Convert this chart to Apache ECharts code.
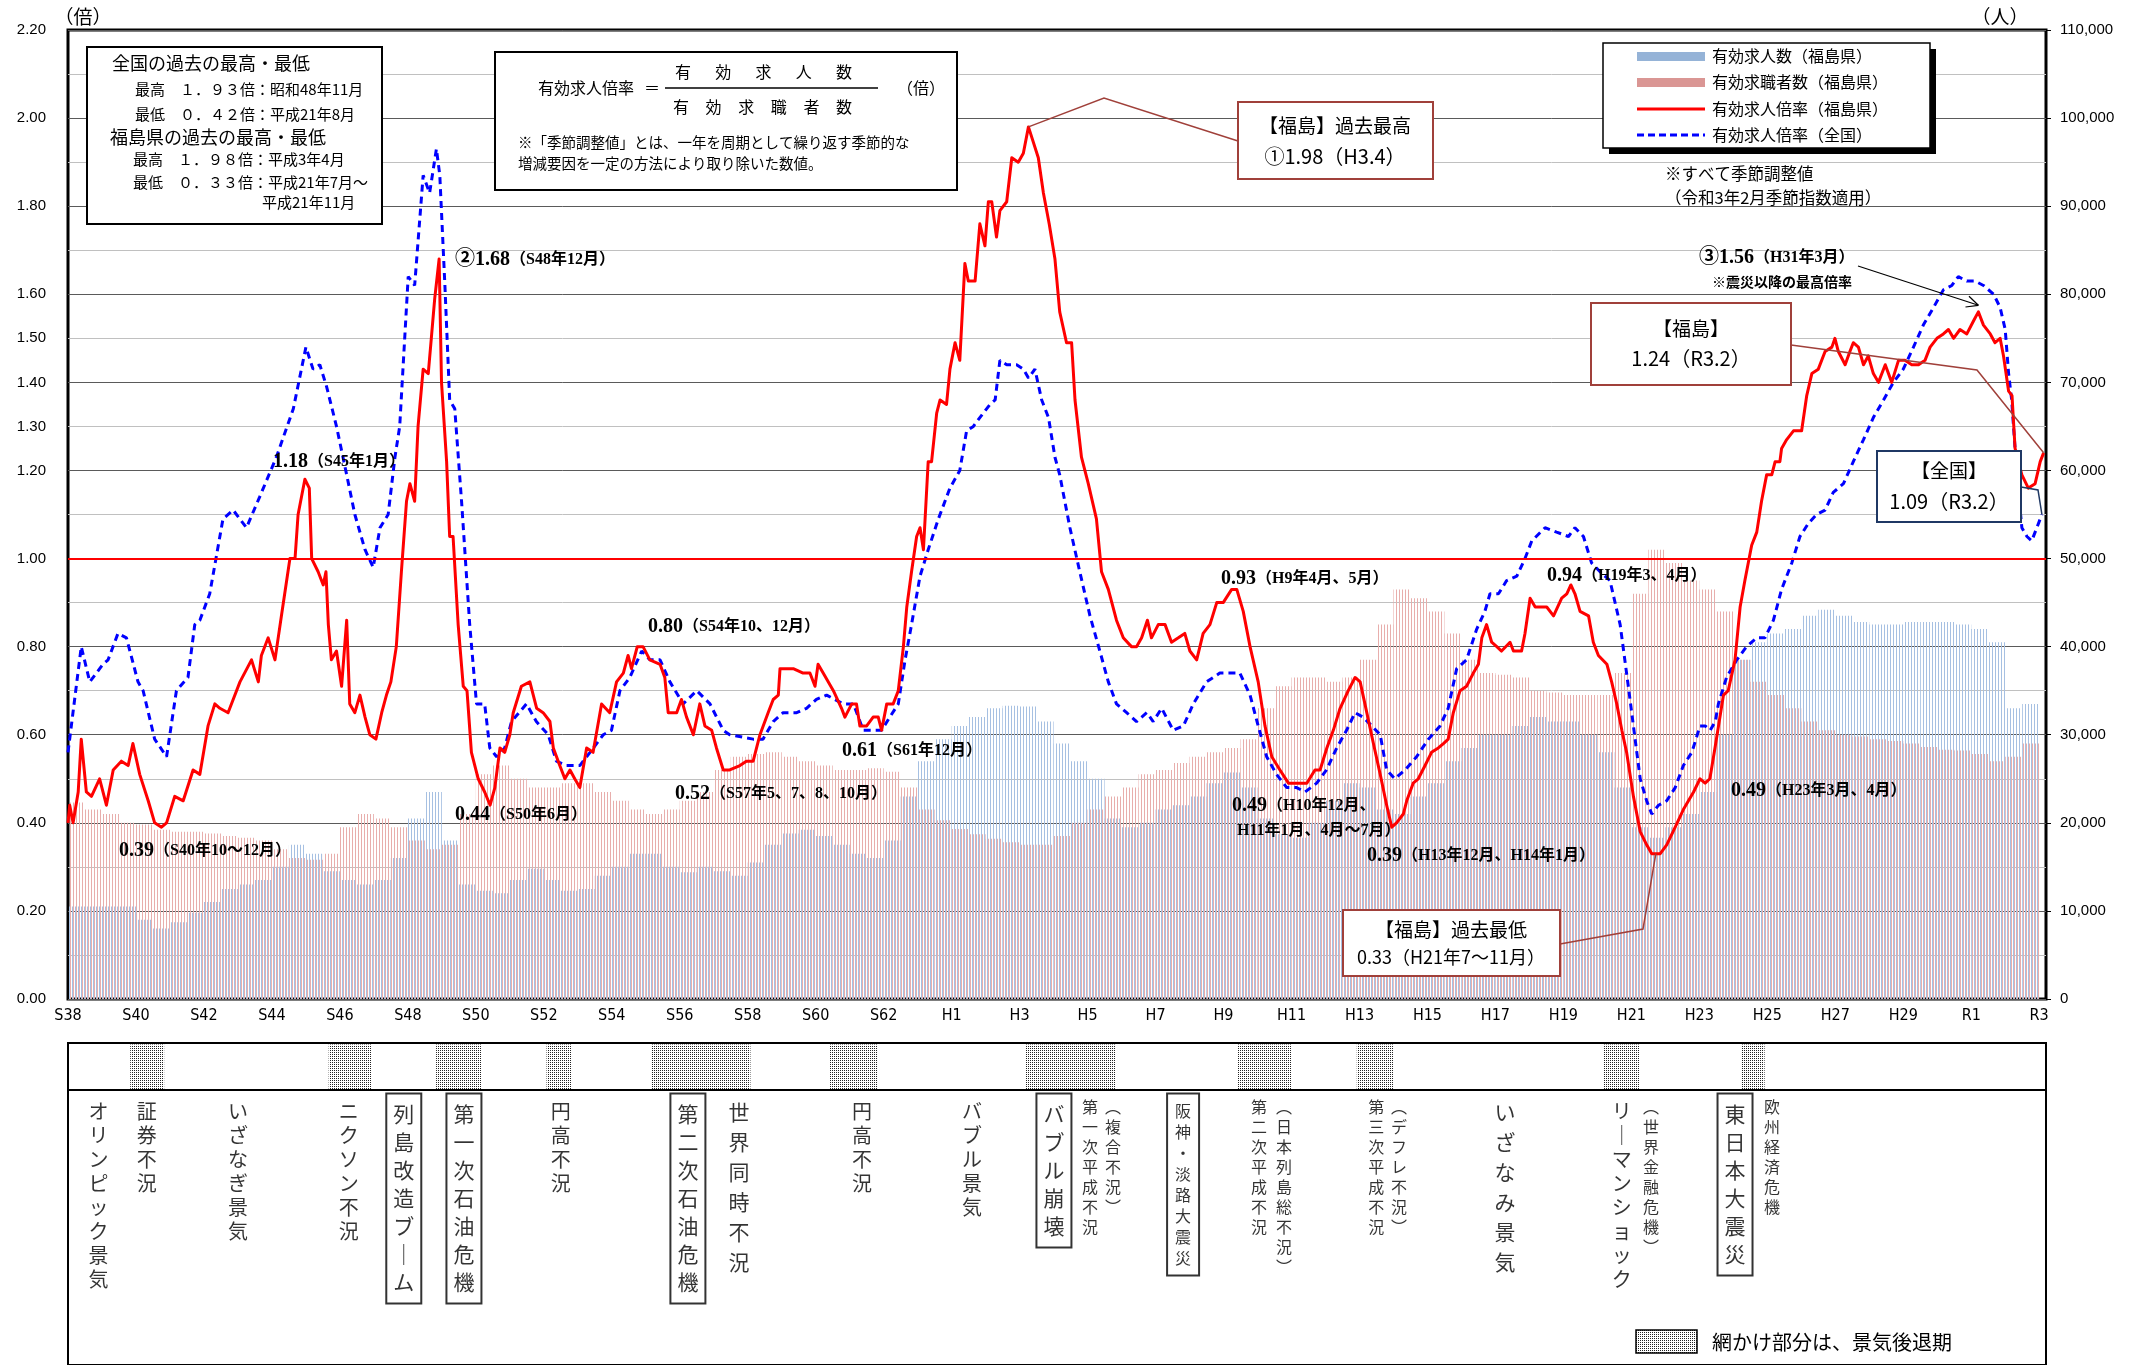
<!DOCTYPE html>
<html lang="ja">
<head>
<meta charset="utf-8">
<title>有効求人倍率の推移（福島県・全国）</title>
<script src="https://cdn.jsdelivr.net/npm/echarts/dist/echarts.min.js"></script>
<style>
  html, body { margin: 0; padding: 0; background: #fff; }
  #chart { width: 2143px; height: 1365px; }
</style>
</head>
<body>
<div id="chart"></div>
<script>
// 年は西暦の小数表記（1963.0 = 昭和38年1月）、季節調整値
const fukushimaRatio = [
  [1963.0,0.40],[1963.05,0.44],[1963.15,0.40],[1963.3,0.47],[1963.39,0.59],[1963.54,0.47],[1963.69,0.46],[1963.93,0.50],
  [1964.13,0.44],[1964.33,0.52],[1964.57,0.54],[1964.77,0.53],[1964.91,0.58],[1965.11,0.51],[1965.36,0.45],[1965.55,0.40],
  [1965.75,0.39],[1965.9,0.40],[1966.14,0.46],[1966.39,0.45],[1966.68,0.52],[1966.88,0.51],[1967.12,0.62],[1967.32,0.67],
  [1967.47,0.66],[1967.71,0.65],[1967.86,0.68],[1968.06,0.72],[1968.4,0.77],[1968.6,0.72],[1968.69,0.78],[1968.89,0.82],
  [1969.09,0.77],[1969.28,0.87],[1969.53,1.00],[1969.68,1.00],[1969.77,1.10],[1969.97,1.18],[1970.1,1.16],[1970.17,1.00],
  [1970.36,0.97],[1970.51,0.94],[1970.59,0.97],[1970.66,0.85],[1970.75,0.77],[1970.9,0.79],[1971.05,0.71],[1971.2,0.86],
  [1971.29,0.67],[1971.44,0.65],[1971.59,0.69],[1971.74,0.64],[1971.88,0.60],[1972.06,0.59],[1972.23,0.65],[1972.37,0.69],
  [1972.5,0.72],[1972.66,0.80],[1972.81,0.97],[1972.96,1.13],[1973.06,1.17],[1973.2,1.13],[1973.3,1.30],[1973.45,1.43],
  [1973.6,1.42],[1973.69,1.50],[1973.79,1.59],[1973.92,1.68],[1973.99,1.40],[1974.14,1.22],[1974.23,1.05],[1974.33,1.05],
  [1974.48,0.85],[1974.63,0.71],[1974.74,0.70],[1974.87,0.56],[1975.07,0.50],[1975.26,0.47],[1975.42,0.44],[1975.56,0.48],
  [1975.71,0.57],[1975.85,0.56],[1976.0,0.60],[1976.1,0.65],[1976.34,0.71],[1976.59,0.72],[1976.79,0.66],[1976.98,0.65],
  [1977.18,0.63],[1977.28,0.57],[1977.47,0.53],[1977.62,0.50],[1977.77,0.52],[1977.91,0.50],[1978.06,0.48],[1978.26,0.57],
  [1978.45,0.56],[1978.7,0.67],[1978.94,0.65],[1979.14,0.72],[1979.34,0.74],[1979.48,0.78],[1979.58,0.75],[1979.75,0.80],
  [1979.92,0.80],[1980.12,0.77],[1980.42,0.76],[1980.56,0.73],[1980.66,0.65],[1980.91,0.65],[1981.05,0.68],[1981.2,0.64],
  [1981.4,0.60],[1981.59,0.67],[1981.74,0.62],[1981.94,0.61],[1982.08,0.57],[1982.28,0.52],[1982.47,0.52],[1982.77,0.53],
  [1982.96,0.54],[1983.16,0.54],[1983.36,0.60],[1983.6,0.65],[1983.75,0.68],[1983.9,0.69],[1983.95,0.75],[1984.14,0.75],
  [1984.34,0.75],[1984.63,0.74],[1984.83,0.74],[1984.98,0.71],[1985.07,0.76],[1985.22,0.74],[1985.52,0.70],[1985.76,0.66],
  [1985.86,0.64],[1986.06,0.67],[1986.2,0.67],[1986.3,0.62],[1986.5,0.62],[1986.69,0.64],[1986.84,0.64],[1986.94,0.61],
  [1987.09,0.67],[1987.28,0.67],[1987.43,0.70],[1987.58,0.80],[1987.68,0.89],[1987.82,0.97],[1987.97,1.05],[1988.07,1.07],
  [1988.17,1.02],[1988.31,1.22],[1988.41,1.22],[1988.56,1.33],[1988.66,1.36],[1988.85,1.35],[1988.95,1.43],[1989.1,1.49],
  [1989.24,1.45],[1989.39,1.67],[1989.49,1.63],[1989.69,1.63],[1989.83,1.76],[1989.98,1.71],[1990.08,1.81],[1990.18,1.81],
  [1990.32,1.73],[1990.42,1.79],[1990.62,1.81],[1990.77,1.91],[1990.96,1.90],[1991.11,1.92],[1991.26,1.98],[1991.55,1.91],
  [1991.7,1.83],[1991.87,1.76],[1992.04,1.68],[1992.18,1.56],[1992.38,1.49],[1992.53,1.49],[1992.63,1.36],[1992.82,1.23],
  [1993.02,1.17],[1993.26,1.09],[1993.41,0.97],[1993.61,0.93],[1993.85,0.86],[1994.05,0.82],[1994.29,0.80],[1994.44,0.80],
  [1994.59,0.82],[1994.76,0.86],[1994.88,0.82],[1995.08,0.85],[1995.28,0.85],[1995.47,0.81],[1995.67,0.82],[1995.86,0.83],
  [1996.01,0.79],[1996.21,0.77],[1996.4,0.83],[1996.6,0.85],[1996.8,0.90],[1996.99,0.90],[1997.24,0.93],[1997.39,0.93],
  [1997.58,0.88],[1997.78,0.80],[1998.02,0.72],[1998.22,0.62],[1998.42,0.55],[1998.66,0.52],[1998.91,0.49],[1999.15,0.49],
  [1999.45,0.49],[1999.69,0.52],[1999.84,0.52],[2000.04,0.57],[2000.23,0.61],[2000.43,0.66],[2000.67,0.70],[2000.87,0.73],
  [2001.02,0.72],[2001.16,0.67],[2001.41,0.58],[2001.61,0.51],[2001.8,0.44],[2001.95,0.39],[2002.09,0.40],[2002.29,0.42],
  [2002.39,0.45],[2002.58,0.49],[2002.73,0.50],[2002.93,0.53],[2003.12,0.56],[2003.32,0.57],[2003.47,0.58],[2003.61,0.59],
  [2003.76,0.65],[2003.96,0.70],[2004.15,0.71],[2004.35,0.74],[2004.5,0.76],[2004.6,0.82],[2004.74,0.85],[2004.89,0.81],
  [2005.04,0.80],[2005.18,0.79],[2005.43,0.81],[2005.53,0.79],[2005.77,0.79],[2005.87,0.83],[2006.02,0.91],[2006.17,0.89],
  [2006.51,0.89],[2006.71,0.87],[2006.95,0.91],[2007.1,0.92],[2007.22,0.94],[2007.34,0.92],[2007.49,0.88],[2007.74,0.87],
  [2007.88,0.81],[2008.03,0.78],[2008.28,0.76],[2008.42,0.72],[2008.57,0.67],[2008.72,0.61],[2008.86,0.56],[2009.06,0.46],
  [2009.26,0.38],[2009.45,0.35],[2009.6,0.33],[2009.85,0.33],[2010.04,0.35],[2010.29,0.39],[2010.53,0.43],[2010.83,0.47],
  [2011.02,0.50],[2011.17,0.49],[2011.31,0.50],[2011.46,0.57],[2011.71,0.69],[2011.85,0.70],[2012.05,0.77],[2012.2,0.89],
  [2012.34,0.95],[2012.54,1.03],[2012.69,1.06],[2012.83,1.13],[2012.98,1.19],[2013.13,1.19],[2013.23,1.22],[2013.37,1.22],
  [2013.42,1.25],[2013.57,1.27],[2013.77,1.29],[2014.01,1.29],[2014.16,1.37],[2014.31,1.42],[2014.5,1.43],[2014.7,1.47],
  [2014.9,1.48],[2014.99,1.50],[2015.09,1.47],[2015.29,1.44],[2015.43,1.47],[2015.53,1.49],[2015.68,1.48],[2015.83,1.44],
  [2015.97,1.46],[2016.12,1.42],[2016.27,1.40],[2016.47,1.44],[2016.66,1.40],[2016.86,1.45],[2017.05,1.45],[2017.25,1.44],
  [2017.45,1.44],[2017.64,1.45],[2017.79,1.48],[2017.99,1.50],[2018.18,1.51],[2018.33,1.52],[2018.48,1.50],[2018.67,1.52],
  [2018.87,1.51],[2019.07,1.54],[2019.21,1.56],[2019.36,1.53],[2019.56,1.51],[2019.7,1.49],[2019.85,1.50],[2019.95,1.46],
  [2020.1,1.38],[2020.2,1.37],[2020.29,1.25],[2020.39,1.22],[2020.49,1.19],[2020.68,1.16],[2020.88,1.17],[2021.03,1.22],
  [2021.13,1.24]
];

const nationalRatio = [
  [1963.0,0.56],[1963.39,0.80],[1963.64,0.72],[1964.03,0.76],[1964.18,0.77],[1964.47,0.83],[1964.72,0.82],[1965.06,0.72],
  [1965.21,0.70],[1965.55,0.59],[1965.9,0.55],[1966.19,0.70],[1966.53,0.73],[1966.73,0.85],[1966.88,0.86],[1967.17,0.92],
  [1967.56,1.09],[1967.86,1.11],[1968.25,1.07],[1968.64,1.14],[1969.13,1.23],[1969.63,1.34],[1970.0,1.48],[1970.21,1.43],
  [1970.41,1.44],[1970.61,1.39],[1970.9,1.30],[1971.2,1.19],[1971.44,1.10],[1971.74,1.02],[1971.98,0.98],[1972.18,1.07],
  [1972.42,1.10],[1972.62,1.23],[1972.76,1.30],[1973.01,1.64],[1973.2,1.62],[1973.45,1.87],[1973.64,1.83],[1973.84,1.93],
  [1973.94,1.87],[1974.09,1.62],[1974.23,1.36],[1974.38,1.34],[1974.58,1.13],[1974.82,0.85],[1975.02,0.67],[1975.26,0.67],
  [1975.41,0.57],[1975.61,0.55],[1975.85,0.57],[1976.05,0.63],[1976.49,0.67],[1976.78,0.63],[1977.13,0.60],[1977.37,0.54],
  [1977.67,0.53],[1978.06,0.53],[1978.36,0.56],[1978.75,0.60],[1978.99,0.61],[1979.24,0.70],[1979.53,0.73],[1979.88,0.79],
  [1980.12,0.77],[1980.42,0.77],[1980.71,0.72],[1981.1,0.67],[1981.5,0.70],[1981.89,0.67],[1982.28,0.61],[1982.47,0.60],
  [1983.16,0.59],[1983.45,0.59],[1983.75,0.63],[1984.04,0.65],[1984.44,0.65],[1984.73,0.66],[1985.02,0.68],[1985.32,0.69],
  [1985.56,0.68],[1985.81,0.67],[1986.11,0.67],[1986.4,0.61],[1986.69,0.61],[1986.94,0.61],[1987.18,0.64],[1987.43,0.67],
  [1987.63,0.77],[1987.82,0.85],[1988.07,0.96],[1988.31,1.02],[1988.61,1.09],[1988.95,1.16],[1989.24,1.20],[1989.44,1.29],
  [1989.64,1.30],[1989.83,1.32],[1990.13,1.35],[1990.28,1.36],[1990.42,1.45],[1990.62,1.44],[1990.91,1.44],[1991.11,1.43],
  [1991.26,1.41],[1991.45,1.43],[1991.65,1.36],[1991.85,1.32],[1992.04,1.23],[1992.18,1.19],[1992.48,1.07],[1992.77,0.97],
  [1993.07,0.87],[1993.36,0.79],[1993.61,0.72],[1993.85,0.67],[1994.15,0.65],[1994.44,0.63],[1994.74,0.65],[1994.93,0.63],
  [1995.18,0.66],[1995.52,0.61],[1995.82,0.62],[1996.11,0.67],[1996.5,0.72],[1996.89,0.74],[1997.48,0.74],[1997.78,0.69],
  [1998.02,0.62],[1998.27,0.55],[1998.56,0.51],[1998.86,0.48],[1999.15,0.48],[1999.4,0.47],[1999.74,0.49],[2000.03,0.52],
  [2000.33,0.57],[2000.62,0.61],[2000.87,0.65],[2001.11,0.64],[2001.36,0.62],[2001.61,0.60],[2001.8,0.52],[2002.04,0.50],
  [2002.34,0.52],[2002.68,0.55],[2003.03,0.59],[2003.37,0.62],[2003.61,0.66],[2003.86,0.75],[2004.15,0.77],[2004.45,0.84],
  [2004.69,0.88],[2004.84,0.92],[2005.09,0.92],[2005.33,0.95],[2005.63,0.96],[2005.87,1.00],[2006.07,1.04],[2006.46,1.07],
  [2006.8,1.06],[2007.15,1.05],[2007.34,1.07],[2007.59,1.05],[2007.83,0.99],[2008.08,0.97],[2008.37,0.95],[2008.67,0.85],
  [2008.91,0.71],[2009.11,0.59],[2009.26,0.50],[2009.45,0.45],[2009.6,0.42],[2009.8,0.44],[2010.04,0.45],[2010.29,0.48],
  [2010.53,0.53],[2010.78,0.56],[2011.02,0.62],[2011.17,0.62],[2011.32,0.61],[2011.47,0.63],[2011.56,0.67],[2011.8,0.73],
  [2012.1,0.77],[2012.39,0.80],[2012.69,0.82],[2012.93,0.82],[2013.18,0.86],[2013.42,0.93],[2013.72,0.99],[2013.96,1.05],
  [2014.21,1.08],[2014.45,1.10],[2014.7,1.11],[2014.94,1.15],[2015.24,1.17],[2015.53,1.22],[2015.83,1.27],[2016.12,1.32],
  [2016.42,1.36],[2016.71,1.40],[2017.0,1.43],[2017.3,1.48],[2017.59,1.53],[2017.89,1.57],[2018.18,1.61],[2018.43,1.62],
  [2018.62,1.64],[2018.87,1.63],[2019.11,1.63],[2019.36,1.62],[2019.66,1.60],[2019.85,1.57],[2020.0,1.52],[2020.1,1.42],
  [2020.19,1.36],[2020.29,1.25],[2020.39,1.15],[2020.49,1.07],[2020.64,1.05],[2020.78,1.04],[2020.93,1.07],[2021.08,1.10]
];

// 半期ごと（1963年上期〜2020年下期）、単位：人
const jobOffers = [
  10500,10500, 10500,10500,  9000, 8000,  8700, 9800, 11000,12500, 13000,13500, 15000,17500, 16500,14500,
  13500,13000, 13500,16000, 20500,23500, 18000,13000, 12300,12000, 13500,14800, 13500,12300, 12500,14000,
  15000,16500, 16500,15000, 14400,15000, 14500,14000, 15500,17500, 18800,19200, 18500,17500, 16500,16000,
  18000,23000, 27000,29500, 31000,32000, 33000,33300, 33200,31500, 29000,27000, 25000,20500, 19500,20000,
  21500,22000, 23000,24500, 25700,24000, 20500,18700, 18300,20000, 22500,24500, 24000,21500, 21000,23000,
  24500,27000, 28500,30000, 30000,31000, 32000,31500, 31500,30000, 28000,24000, 19500,18300, 19500,21000,
  23500,30000, 38500,40500, 41500,42000, 43500,44200, 43500,42800, 42500,42500, 42800,42800, 42800,42500,
  42000,40500, 33000,33500
];
const jobSeekers = [
  22300,21500, 21000,20000, 19800,19200, 19000,19000, 18800,18500, 18300,18000, 17000,16000, 15800,16500,
  19500,21000, 20500,19500, 18000,17000, 17500,21000, 25500,26500, 25000,24000, 24000,24500, 24500,23500,
  22500,21500, 21000,21500, 22500,23500, 26000,27500, 27800,28000, 27500,27000, 26500,26000, 26000,26200,
  25800,24000, 21500,20300, 19300,18700, 18200,17800, 17500,17500, 18500,20000, 21500,23000, 24000,25500,
  26000,26800, 27500,28000, 28500,29500, 33000,35500, 36500,36500, 36000,36500, 38500,42500, 46500,45500,
  44000,41500, 38500,37000, 36800,36500, 35000,34800, 34500,34500, 34500,37000, 46000,51000, 49500,47500,
  46500,44000, 38500,36000, 34500,33000, 31500,30500, 30000,29800, 29500,29300, 29000,28600, 28300,28200,
  27800,27000, 27500,29000
];

// 景気後退期（網かけ）
const recessions = [
  [1964.83,1965.83],[1970.67,1971.92],[1973.83,1975.17],[1977.08,1977.83],[1980.17,1983.08],[1985.42,1986.83],
  [1991.17,1993.83],[1997.42,1999.0],[2000.92,2002.0],[2008.17,2009.25],[2012.25,2012.92]
];

const yearTicks = [1963,1965,1967,1969,1971,1973,1975,1977,1979,1981,1983,1985,1987,1989,1991,
  1993,1995,1997,1999,2001,2003,2005,2007,2009,2011,2013,2015,2017,2019,2021];
const leftTickLabels = [0, 0.2, 0.4, 0.6, 0.8, 1.0, 1.2, 1.3, 1.4, 1.5, 1.6, 1.8, 2.0, 2.2];

// 景気の出来事（年, 名称, 表示の種類）
const events = [
  [1963.90, 'オリンピック景気', 'big'],
  [1965.32, '証券不況', 'big'],
  [1968.0, 'いざなぎ景気', 'big'],
  [1971.26, 'ニクソン不況', 'big'],
  [1972.88, '列島改造ブーム', 'box'],
  [1974.65, '第一次石油危機', 'box'],
  [1977.5, '円高不況', 'big'],
  [1981.24, '第二次石油危機', 'box'],
  [1982.74, '世界同時不況', 'wide'],
  [1986.36, '円高不況', 'big'],
  [1989.6, 'バブル景気', 'big'],
  [1992.01, 'バブル崩壊', 'box'],
  [1993.07, '第一次平成不況', 'small'],
  [1993.75, '（複合不況）', 'small'],
  [1995.81, '阪神・淡路大震災', 'boxs'],
  [1998.04, '第二次平成不況', 'small'],
  [1998.78, '（日本列島総不況）', 'small'],
  [2001.49, '第三次平成不況', 'small'],
  [2002.16, '（デフレ不況）', 'small'],
  [2005.28, 'いざなみ景気', 'wide'],
  [2008.72, 'リーマンショック', 'big'],
  [2009.58, '（世界金融危機）', 'small'],
  [2012.05, '東日本大震災', 'box'],
  [2013.14, '欧州経済危機', 'small']
];

const JP = '"Noto Sans CJK JP", sans-serif';
const SERIF = '"Liberation Serif", "Noto Sans CJK JP", serif';
const NARROW = '"Liberation Sans Narrow", "DejaVu Sans Condensed", sans-serif';

function stripe(color, offset) {
  const c = document.createElement('canvas');
  c.width = 3; c.height = 1;
  const ctx = c.getContext('2d');
  ctx.fillStyle = color;
  ctx.fillRect(offset, 0, 1, 1);
  return { image: c, repeat: 'repeat' };
}
function dots() {
  const c = document.createElement('canvas');
  c.width = 2; c.height = 2;
  const ctx = c.getContext('2d');
  ctx.fillStyle = '#fff'; ctx.fillRect(0, 0, 2, 2);
  ctx.fillStyle = '#222'; ctx.fillRect(0, 0, 1, 1);
  return { image: c, repeat: 'repeat' };
}
function era(y) {
  y = Math.round(y);
  if (y <= 1988) return 'S' + (y - 1925);
  if (y <= 2018) return 'H' + (y - 1988);
  return 'R' + (y - 2018);
}
function vert(s) {
  return s.replace(/ー/g, '｜').replace(/（/g, '︵').replace(/）/g, '︶').split('').join('\n');
}

const evStyle = {
  big: { fontSize: 20, lineHeight: 24, padding: [6, 0, 0, 0] },
  wide: { fontSize: 21, lineHeight: 30, padding: [4, 0, 0, 0] },
  box: { fontSize: 21, lineHeight: 28, padding: [7, 7, 7, 7], borderColor: '#000', borderWidth: 2 },
  small: { fontSize: 16, lineHeight: 20, padding: [4, 0, 0, 0] },
  boxs: { fontSize: 16, lineHeight: 21, padding: [7, 8, 7, 8], borderColor: '#000', borderWidth: 2 }
};

const chart = echarts.init(document.getElementById('chart'));

const option = {
  animation: false,
  backgroundColor: '#fff',
  textStyle: { fontFamily: JP },
  grid: [
    { left: 68, top: 30, width: 1978, height: 969, show: true, borderColor: '#000', borderWidth: 3, backgroundColor: '#fff' },
    { left: 68, top: 1043, width: 1978, height: 400, show: true, borderColor: '#000', borderWidth: 2 }
  ],
  xAxis: [
    {
      gridIndex: 0, type: 'value', min: 1963, max: 2021.2,
      splitLine: { show: false }, axisLine: { show: false }, axisTick: { show: false },
      axisLabel: { customValues: yearTicks, formatter: era, margin: 9, fontFamily: NARROW, fontSize: 16, color: '#000' }
    },
    { gridIndex: 1, type: 'value', min: 1963, max: 2021.2, show: false }
  ],
  yAxis: [
    {
      gridIndex: 0, type: 'value', min: 0, max: 2.2, interval: 0.1, position: 'left',
      axisLine: { show: false }, axisTick: { show: false },
      splitLine: { lineStyle: { color: '#c0c0c0', width: 1 } },
      axisLabel: {
        margin: 22, fontSize: 15, color: '#000', fontFamily: '"Liberation Sans", sans-serif',
        formatter: v => leftTickLabels.some(l => Math.abs(l - v) < 1e-6) ? v.toFixed(2) : ''
      }
    },
    {
      gridIndex: 0, type: 'value', min: 0, max: 110000, interval: 10000, position: 'right',
      axisLine: { show: false }, axisTick: { show: true, length: 5, lineStyle: { color: '#000' } },
      splitLine: { lineStyle: { color: '#5a5a5a', width: 1 } },
      axisLabel: {
        margin: 14, fontSize: 15, color: '#000', fontFamily: '"Liberation Sans", sans-serif',
        formatter: v => v.toLocaleString('en-US')
      }
    },
    { gridIndex: 1, type: 'value', min: 0, max: 400, inverse: true, show: false }
  ],
  series: [
    {
      name: '有効求人数（福島県）', type: 'bar', xAxisIndex: 0, yAxisIndex: 1, silent: true,
      data: jobOffers.map((v, i) => [1963.25 + i * 0.5, v]),
      barWidth: 17, barGap: '-100%',
      itemStyle: { color: stripe('#a6c0e2', 0) }
    },
    {
      name: '有効求職者数（福島県）', type: 'bar', xAxisIndex: 0, yAxisIndex: 1, silent: true,
      data: jobSeekers.map((v, i) => [1963.25 + i * 0.5, v]),
      barWidth: 17, barGap: '-100%',
      itemStyle: { color: stripe('#e8aeac', 1) },
      markLine: {
        silent: true, symbol: 'none', label: { show: false },
        lineStyle: { color: '#ff0000', width: 2, type: 'solid' },
        data: [{ yAxis: 50000 }]
      }
    },
    {
      name: '有効求人倍率（全国）', type: 'line', data: nationalRatio, symbol: 'none', silent: true, z: 3,
      lineStyle: { color: '#0000ff', width: 3, type: [7, 5] }
    },
    {
      name: '有効求人倍率（福島県）', type: 'line', data: fukushimaRatio, symbol: 'none', silent: true, z: 4,
      lineStyle: { color: '#ff0000', width: 3, join: 'round' }
    },
    {
      name: '景気', type: 'scatter', xAxisIndex: 1, yAxisIndex: 2, silent: true,
      symbolSize: 1, itemStyle: { color: 'rgba(0,0,0,0)' },
      label: { show: true, position: 'bottom', distance: 0, formatter: p => p.name, color: '#000', fontFamily: JP, align: 'center' },
      data: events.map(e => ({ value: [e[0], 62], name: vert(e[1]), label: Object.assign({}, evStyle[e[2]]) })),
      markArea: {
        silent: true, itemStyle: { color: dots(), borderWidth: 0 },
        data: recessions.map(r => [{ coord: [r[0], 2] }, { coord: [r[1], 57] }])
      },
      markLine: {
        silent: true, symbol: 'none', label: { show: false },
        lineStyle: { color: '#000', width: 2, type: 'solid' },
        data: [{ yAxis: 58 }]
      }
    }
  ]
};

chart.setOption(option);

// ---- 注記・凡例など ----
const P = (x, y) => chart.convertToPixel({ xAxisIndex: 0, yAxisIndex: 0 }, [x, y]);

function txt(x, y, text, font, align, fill) {
  return { type: 'text', x, y, z: 100, style: { text, font, fill: fill || '#000', align: align || 'left', verticalAlign: 'middle' } };
}
function box(x, y, w, h, stroke, lw) {
  return { type: 'rect', z: 90, shape: { x, y, width: w, height: h }, style: { fill: '#fff', stroke: stroke || '#000', lineWidth: lw || 2 } };
}
function poly(points, stroke, lw) {
  return { type: 'polyline', z: 95, shape: { points }, style: { stroke, lineWidth: lw || 1.5, fill: null } };
}
function ann(x, y, v, d) {
  return {
    type: 'text', x, y, z: 100,
    style: {
      text: '{v|' + v + '}{d|' + d + '}', verticalAlign: 'middle',
      rich: {
        v: { fontSize: 20, fontWeight: 'bold', fontFamily: SERIF, fill: '#000' },
        d: { fontSize: 16, fontWeight: 'bold', fontFamily: SERIF, fill: '#000' }
      }
    }
  };
}
function spread(chars, x1, x2, y, size) {
  const n = chars.length, step = (x2 - x1 - size) / (n - 1);
  return chars.split('').map((c, i) => txt(x1 + i * step, y, c, size + 'px ' + JP));
}

const g = [];
// 単位
g.push(txt(83, 17, '（倍）', '19px ' + JP, 'center'));
g.push(txt(2000, 17, '（人）', '19px ' + JP, 'center'));

// 過去の最高・最低
g.push(box(87, 47, 295, 177));
g.push(txt(112, 63, '全国の過去の最高・最低', '18px ' + JP));
g.push(txt(135, 89, '最高　１．９３倍：昭和48年11月', '15px ' + JP));
g.push(txt(135, 114, '最低　０．４２倍：平成21年8月', '15px ' + JP));
g.push(txt(110, 137, '福島県の過去の最高・最低', '18px ' + JP));
g.push(txt(133, 159, '最高　１．９８倍：平成3年4月', '15px ' + JP));
g.push(txt(133, 182, '最低　０．３３倍：平成21年7月～', '15px ' + JP));
g.push(txt(262, 202, '平成21年11月', '15px ' + JP));

// 有効求人倍率の式
g.push(box(495, 52, 462, 138));
g.push(txt(538, 88, '有効求人倍率', '16px ' + JP));
g.push(txt(652, 88, '＝', '16px ' + JP, 'center'));
g.push({ type: 'line', z: 95, shape: { x1: 665, y1: 88, x2: 878, y2: 88 }, style: { stroke: '#000', lineWidth: 1.5 } });
spread('有効求人数', 675, 852, 72, 16).forEach(e => g.push(e));
spread('有効求職者数', 673, 852, 107, 16).forEach(e => g.push(e));
g.push(txt(897, 88, '（倍）', '16px ' + JP));
g.push(txt(518, 142, '※「季節調整値」とは、一年を周期として繰り返す季節的な', '14.5px ' + JP));
g.push(txt(518, 163, '増減要因を一定の方法により取り除いた数値。', '14.5px ' + JP));

// 凡例
g.push({ type: 'rect', z: 89, shape: { x: 1609, y: 49, width: 327, height: 105 }, style: { fill: '#000' } });
g.push(box(1603, 43, 327, 105, '#000', 1.5));
g.push({ type: 'rect', z: 95, shape: { x: 1637, y: 52, width: 68, height: 9 }, style: { fill: '#95b3d7' } });
g.push({ type: 'rect', z: 95, shape: { x: 1637, y: 78, width: 68, height: 9 }, style: { fill: '#da9694' } });
g.push({ type: 'line', z: 95, shape: { x1: 1637, y1: 109, x2: 1705, y2: 109 }, style: { stroke: '#ff0000', lineWidth: 3 } });
g.push({ type: 'line', z: 95, shape: { x1: 1637, y1: 135, x2: 1705, y2: 135 }, style: { stroke: '#0000ff', lineWidth: 3, lineDash: [7, 4] } });
g.push(txt(1712, 56, '有効求人数（福島県）', '16px ' + JP));
g.push(txt(1712, 82, '有効求職者数（福島県）', '16px ' + JP));
g.push(txt(1712, 109, '有効求人倍率（福島県）', '16px ' + JP));
g.push(txt(1712, 135, '有効求人倍率（全国）', '16px ' + JP));
g.push(txt(1665, 174, '※すべて季節調整値', '16.5px ' + JP));
g.push(txt(1665, 198, '（令和3年2月季節指数適用）', '16.5px ' + JP));

// 倍率の注記
g.push(ann(119, 851, '0.39', '（S40年10～12月）'));
g.push(ann(273, 462, '1.18', '（S45年1月）'));
g.push(ann(455, 260, '②1.68', '（S48年12月）'));
g.push(ann(455, 815, '0.44', '（S50年6月）'));
g.push(ann(648, 627, '0.80', '（S54年10、12月）'));
g.push(ann(675, 794, '0.52', '（S57年5、7、8、10月）'));
g.push(ann(842, 751, '0.61', '（S61年12月）'));
g.push(ann(1221, 579, '0.93', '（H9年4月、5月）'));
g.push(ann(1232, 806, '0.49', '（H10年12月、'));
g.push(txt(1237, 831, 'H11年1月、4月～7月）', 'bold 16px ' + SERIF));
g.push(ann(1367, 856, '0.39', '（H13年12月、H14年1月）'));
g.push(ann(1547, 576, '0.94', '（H19年3、4月）'));
g.push(ann(1731, 791, '0.49', '（H23年3月、4月）'));
g.push(ann(1699, 258, '③1.56', '（H31年3月）'));
g.push(txt(1712, 283, '※震災以降の最高倍率', 'bold 14px ' + SERIF));

// ③の矢印
const tip = P(2019.21, 1.575);
const st = [1858, 266];
g.push(poly([st, tip], '#000', 1.2));
(function () {
  const dx = tip[0] - st[0], dy = tip[1] - st[1], L = Math.hypot(dx, dy);
  const ux = dx / L, uy = dy / L;
  [0.45, -0.45].forEach(a => {
    const c = Math.cos(a), s = Math.sin(a);
    const bx = -(ux * c - uy * s) * 13, by = -(ux * s + uy * c) * 13;
    g.push(poly([[tip[0] + bx, tip[1] + by], tip], '#000', 1.2));
  });
})();

// 吹き出し
const RED_BOX = '#a0403a', NAVY = '#1f3864';
g.push(box(1238, 102, 195, 77, RED_BOX));
g.push(txt(1335, 126, '【福島】過去最高', '19px ' + JP, 'center'));
g.push(txt(1335, 156, '①1.98（H3.4）', '20px ' + JP, 'center'));
g.push(poly([[1238, 141], [1104, 98], P(1991.26, 1.98)], RED_BOX, 1.5));

g.push(box(1591, 303, 200, 82, RED_BOX));
g.push(txt(1691, 329, '【福島】', '19px ' + JP, 'center'));
g.push(txt(1691, 358, '1.24（R3.2）', '20px ' + JP, 'center'));
g.push(poly([[1791, 345], [1977, 370], P(2021.13, 1.24)], RED_BOX, 1.5));

g.push(box(1877, 451, 144, 71, NAVY));
g.push(txt(1949, 471, '【全国】', '19px ' + JP, 'center'));
g.push(txt(1949, 501, '1.09（R3.2）', '20px ' + JP, 'center'));
g.push(poly([[2021, 487], [2038, 490], P(2021.08, 1.10)], NAVY, 1.5));

g.push(box(1343, 910, 217, 66, RED_BOX));
g.push(txt(1451, 930, '【福島】過去最低', '19px ' + JP, 'center'));
g.push(txt(1451, 957, '0.33（H21年7～11月）', '18px ' + JP, 'center'));
g.push(poly([[1560, 944], [1643, 929], P(2009.72, 0.33)], RED_BOX, 1.5));

// 網かけの凡例
g.push({ type: 'rect', z: 95, shape: { x: 1636, y: 1330, width: 61, height: 23 }, style: { fill: dots(), stroke: '#000', lineWidth: 1.5 } });
g.push(txt(1712, 1342, '網かけ部分は、景気後退期', '20px ' + JP));

chart.setOption({ graphic: g });
</script>
</body>
</html>
